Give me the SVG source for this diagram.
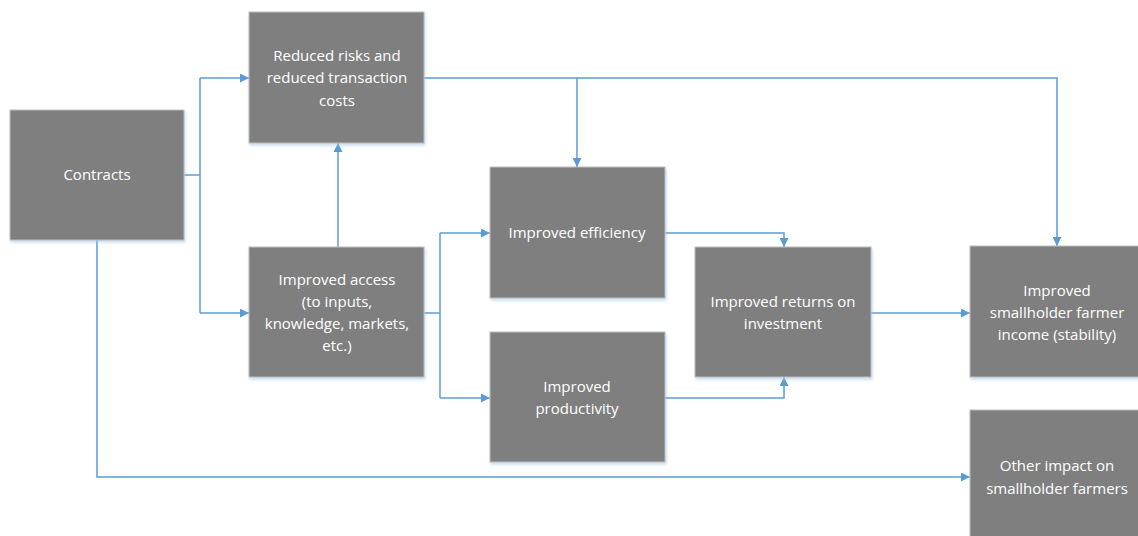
<svg xmlns="http://www.w3.org/2000/svg" width="1138" height="536" viewBox="0 0 1138 536">
<defs>
<marker id="ah" viewBox="0 0 10 10" refX="10" refY="5" markerWidth="9" markerHeight="9" markerUnits="userSpaceOnUse" orient="auto">
<path d="M0,0 L10,5 L0,10 z" fill="#5b9bd5"/>
</marker>
<filter id="sh" x="-10%" y="-10%" width="120%" height="120%">
<feDropShadow dx="1" dy="2" stdDeviation="1.5" flood-color="#9dc3e6" flood-opacity="0.6"/>
</filter>
<style>
.box{fill:#7f7f7f;stroke:#bfbfbf;stroke-width:1;filter:url(#sh)}
.t{font-family:"Open Sans","Noto Sans","Liberation Sans",sans-serif;font-size:15px;fill:#ffffff;text-anchor:middle}
.c{fill:none;stroke:#5b9bd5;stroke-width:1.5}
.a{marker-end:url(#ah)}
</style>
</defs>
<g id="connectors">
<path class="c" d="M184,175 H200"/>
<path class="c" d="M200,78 V313"/>
<path class="c a" d="M200,78 H249"/>
<path class="c a" d="M200,313 H249"/>
<path class="c a" d="M97,240 V477 H970"/>
<path class="c a" d="M338,247 V143"/>
<path class="c" d="M424,313 H440"/>
<path class="c" d="M440,233 V398"/>
<path class="c a" d="M440,233 H490"/>
<path class="c a" d="M440,398 H490"/>
<path class="c a" d="M424,78 H1057 V246"/>
<path class="c a" d="M577,78 V167"/>
<path class="c a" d="M665,233 H784 V247"/>
<path class="c a" d="M665,398 H784 V377"/>
<path class="c a" d="M871,313 H970"/>
</g>
<g id="contracts">
<rect class="box" x="10" y="110" width="174" height="130"/>
<text class="t" x="97" y="180">Contracts</text>
</g>
<g id="reduced-risks">
<rect class="box" x="249" y="12" width="175" height="131"/>
<text class="t" x="337" y="61">Reduced risks and</text>
<text class="t" x="337" y="83">reduced transaction</text>
<text class="t" x="337" y="106">costs</text>
</g>
<g id="improved-access">
<rect class="box" x="249" y="247" width="175" height="130"/>
<text class="t" x="337" y="285">Improved access</text>
<text class="t" x="337" y="307">(to inputs,</text>
<text class="t" x="337" y="329">knowledge, markets,</text>
<text class="t" x="337" y="351">etc.)</text>
</g>
<g id="improved-efficiency">
<rect class="box" x="490" y="167" width="175" height="131"/>
<text class="t" x="577" y="238">Improved efficiency</text>
</g>
<g id="improved-productivity">
<rect class="box" x="490" y="332" width="175" height="130"/>
<text class="t" x="577" y="392">Improved</text>
<text class="t" x="577" y="414">productivity</text>
</g>
<g id="improved-returns">
<rect class="box" x="695" y="247" width="176" height="130"/>
<text class="t" x="783" y="307">Improved returns on</text>
<text class="t" x="783" y="329">investment</text>
</g>
<g id="improved-income">
<rect class="box" x="970" y="246" width="175" height="131"/>
<text class="t" x="1057" y="296">Improved</text>
<text class="t" x="1057" y="318">smallholder farmer</text>
<text class="t" x="1057" y="340">income (stability)</text>
</g>
<g id="other-impact">
<rect class="box" x="970" y="410" width="175" height="140"/>
<text class="t" x="1057" y="471">Other impact on</text>
<text class="t" x="1057" y="494">smallholder farmers</text>
</g>
</svg>
